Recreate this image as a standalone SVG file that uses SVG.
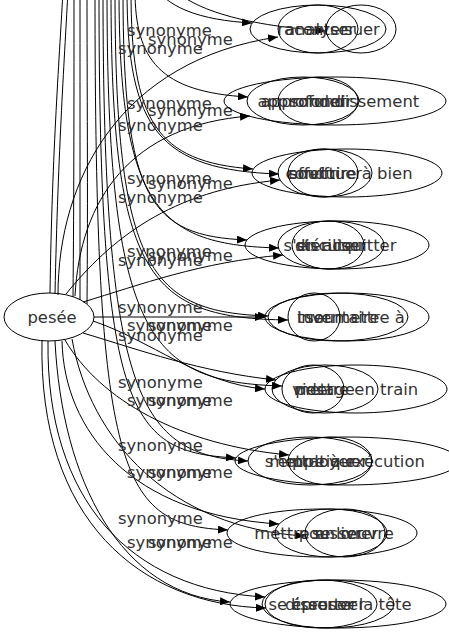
<svg xmlns="http://www.w3.org/2000/svg" width="449" height="635" viewBox="0 0 449 635">
<style>
.e{fill:none;stroke:#000;stroke-width:1}
.a{fill:none;stroke:#000;stroke-width:1;marker-end:url(#arr)}
.n{fill:none;stroke:#000;stroke-width:1}
.t{font-family:"DejaVu Sans",sans-serif;font-size:16.4px;fill:#333;text-anchor:middle}
.l{font-family:"DejaVu Sans",sans-serif;font-size:16.4px;fill:#333}
</style>
<defs>
<marker id="arr" markerUnits="userSpaceOnUse" markerWidth="11" markerHeight="8" refX="10" refY="4" orient="auto">
<path d="M0,0 L10,4 L0,8 z" fill="#000"/>
</marker>
</defs>
<rect width="449" height="635" fill="#fff"/>
<g id="edges">
<path class="e" d="M50,293 C52,150 60,50 63,-10"/>
<path class="e" d="M55,294 C58,150 65,50 68,-10"/>
<path class="e" d="M73,297 C74,200 74,80 74,-10"/>
<path class="e" d="M80,300 C80,200 80,80 80,-10"/>
<path class="e" d="M87,304 C88,200 87,80 87,-10"/>
<path class="a" d="M150,-20 C165,8 200,20 252,23"/>
<path class="a" d="M165,-20 C185,8 240,25 326,31"/>
<path class="a" d="M58,295 C58,180 120,60 278,37"/>
<path class="a" d="M135,-10 C135,60 160,92 248,97"/>
<path class="a" d="M75,296 C80,200 130,125 250,116"/>
<path class="a" d="M131,-10 C131,120 155,162 253,169"/>
<path class="a" d="M127,-10 C127,130 160,170 279,174"/>
<path class="a" d="M66,294 C110,240 170,190 280,180"/>
<path class="a" d="M123,-10 C123,200 150,236 247,240"/>
<path class="a" d="M119,-10 C119,210 160,245 279,248"/>
<path class="a" d="M83,302 C140,285 200,262 283,255"/>
<path class="a" d="M94,317 L265,317"/>
<path class="a" d="M115,-10 C115,270 150,312 268,316"/>
<path class="a" d="M111,-10 C111,280 150,318 288,320"/>
<path class="a" d="M83,333 C140,350 200,372 276,380"/>
<path class="a" d="M93,321 C150,340 200,384 265,389"/>
<path class="a" d="M107,-10 C107,340 150,382 282,386"/>
<path class="a" d="M65,340 C100,400 180,445 289,455"/>
<path class="a" d="M103,-10 C103,400 140,455 248,461"/>
<path class="a" d="M99,-10 C99,420 130,452 236,458"/>
<path class="a" d="M72,339 C90,440 170,528 305,536"/>
<path class="a" d="M62,341 C64,430 130,515 279,524"/>
<path class="a" d="M95,-10 C95,480 120,525 228,530"/>
<path class="a" d="M55,341 C62,480 120,595 230,602"/>
<path class="a" d="M48,341 C46,500 130,590 265,597"/>
<path class="a" d="M42,340 C38,520 140,605 266,608"/>
<text class="l" x="127" y="36">synonyme</text>
<text class="l" x="148" y="45">synonyme</text>
<text class="l" x="118" y="54">synonyme</text>
<text class="l" x="127" y="109">synonyme</text>
<text class="l" x="148" y="116">synonyme</text>
<text class="l" x="118" y="131">synonyme</text>
<text class="l" x="127" y="184">synonyme</text>
<text class="l" x="148" y="189">synonyme</text>
<text class="l" x="118" y="203">synonyme</text>
<text class="l" x="127" y="257">synonyme</text>
<text class="l" x="148" y="261">synonyme</text>
<text class="l" x="118" y="266">synonyme</text>
<text class="l" x="118" y="313">synonyme</text>
<text class="l" x="127" y="331">synonyme</text>
<text class="l" x="148" y="331">synonyme</text>
<text class="l" x="118" y="341">synonyme</text>
<text class="l" x="118" y="388">synonyme</text>
<text class="l" x="127" y="406">synonyme</text>
<text class="l" x="148" y="406">synonyme</text>
<text class="l" x="118" y="451">synonyme</text>
<text class="l" x="127" y="478">synonyme</text>
<text class="l" x="148" y="478">synonyme</text>
<text class="l" x="118" y="524">synonyme</text>
<text class="l" x="127" y="548">synonyme</text>
<text class="l" x="148" y="548">synonyme</text>
</g>
<g id="node-pesee"><ellipse class="n" cx="49" cy="317" rx="45" ry="24"/><text class="t" x="52" y="323">pesée</text></g>
<g id="node-raconter"><ellipse class="n" cx="318" cy="29" rx="68" ry="24"/><text class="t" x="312" y="35">raconter</text></g>
<g id="node-analyser"><ellipse class="n" cx="318" cy="29" rx="40" ry="24"/><text class="t" x="320" y="35">analyser</text></g>
<g id="node-suer"><ellipse class="n" cx="361" cy="29" rx="35" ry="24"/><text class="t" x="362" y="35">suer</text></g>
<g id="node-approfondissement"><ellipse class="n" cx="335" cy="101" rx="111" ry="24"/><text class="t" x="340" y="107">approfondissement</text></g>
<g id="node-approfondir"><ellipse class="n" cx="303" cy="101" rx="56" ry="24"/><text class="t" x="305" y="107">approfondir</text></g>
<g id="node-sonder"><ellipse class="n" cx="318" cy="101" rx="40" ry="24"/><text class="t" x="318" y="107">sonder</text></g>
<g id="node-conduire"><ellipse class="n" cx="347" cy="173" rx="95" ry="24"/><text class="t" x="349" y="179">conduire à bien</text></g>
<g id="node-effectuer"><ellipse class="n" cx="325" cy="173" rx="47" ry="24"/><text class="t" x="325" y="179">effectuer</text></g>
<g id="node-souffrir"><ellipse class="n" cx="323" cy="173" rx="35" ry="24"/><text class="t" x="318" y="179">souffrir</text></g>
<g id="node-acquitter"><ellipse class="n" cx="337" cy="245" rx="92" ry="24"/><text class="t" x="340" y="251">s'en acquitter</text></g>
<g id="node-steriliser"><ellipse class="n" cx="331" cy="245" rx="53" ry="24"/><text class="t" x="331" y="251">stériliser</text></g>
<g id="node-discuter"><ellipse class="n" cx="328" cy="245" rx="36" ry="24"/><text class="t" x="328" y="251">discuter</text></g>
<g id="node-soumettre"><ellipse class="n" cx="347" cy="317" rx="82" ry="24"/><text class="t" x="355" y="323">soumettre à</text></g>
<g id="node-inventaire"><ellipse class="n" cx="338" cy="317" rx="70" ry="24"/><text class="t" x="338" y="323">inventaire</text></g>
<g id="node-tuer"><ellipse class="n" cx="314" cy="317" rx="26" ry="24"/><text class="t" x="314" y="323">tuer</text></g>
<g id="node-train"><ellipse class="n" cx="356" cy="389" rx="91" ry="24"/><text class="t" x="356" y="395">mettre en train</text></g>
<g id="node-pesage"><ellipse class="n" cx="325" cy="389" rx="53" ry="24"/><text class="t" x="325" y="395">pesage</text></g>
<g id="node-vider"><ellipse class="n" cx="313" cy="389" rx="31" ry="24"/><text class="t" x="313" y="395">vider</text></g>
<g id="node-execution"><ellipse class="n" cx="347" cy="461" rx="112" ry="24"/><text class="t" x="347" y="467">mettre à exécution</text></g>
<g id="node-employer"><ellipse class="n" cx="310" cy="461" rx="62" ry="24"/><text class="t" x="310" y="467">s'employer</text></g>
<g id="node-pratiquer"><ellipse class="n" cx="330" cy="461" rx="42" ry="24"/><text class="t" x="330" y="467">pratiquer</text></g>
<g id="node-oeuvre"><ellipse class="n" cx="322" cy="533" rx="95" ry="24"/><text class="t" x="324" y="539">mettre en œuvre</text></g>
<g id="node-pousser"><ellipse class="n" cx="331" cy="533" rx="56" ry="24"/><text class="t" x="331" y="539">pousser</text></g>
<g id="node-livrer"><ellipse class="n" cx="345" cy="533" rx="40" ry="24"/><text class="t" x="345" y="539">se livrer</text></g>
<g id="node-tete"><ellipse class="n" cx="338" cy="604" rx="108" ry="24"/><text class="t" x="340" y="610">se creuser la tête</text></g>
<g id="node-eprouver"><ellipse class="n" cx="328" cy="604" rx="66" ry="24"/><text class="t" x="328" y="610">éprouver</text></g>
<g id="node-disserter"><ellipse class="n" cx="321" cy="604" rx="56" ry="24"/><text class="t" x="321" y="610">disserter</text></g>
</svg>
